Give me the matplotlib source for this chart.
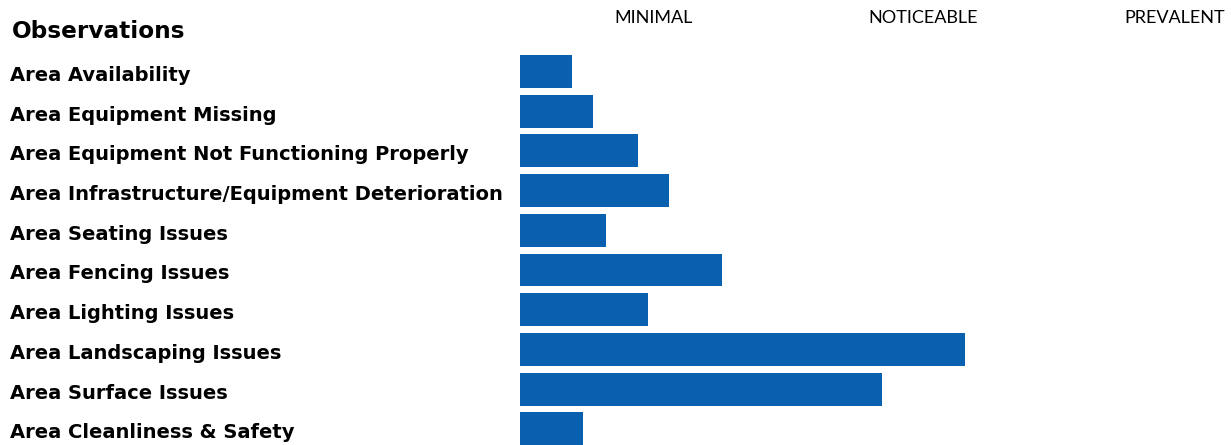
import matplotlib.pyplot as plt
from matplotlib.transforms import blended_transform_factory

categories = [
    "Area Availability",
    "Area Equipment Missing",
    "Area Equipment Not Functioning Properly",
    "Area Infrastructure/Equipment Deterioration",
    "Area Seating Issues",
    "Area Fencing Issues",
    "Area Lighting Issues",
    "Area Landscaping Issues",
    "Area Surface Issues",
    "Area Cleanliness & Safety",
]
values = [0.20, 0.28, 0.45, 0.57, 0.33, 0.77, 0.49, 1.70, 1.38, 0.24]
levels = ["MINIMAL", "NOTICEABLE", "PREVALENT"]
level_pos = [0.51, 1.54, 2.50]

fig = plt.figure(figsize=(12.31, 4.45), dpi=100)
ax = fig.add_axes([520 / 1231, 0, 711 / 1231, 1])

pitch = 39.7  # px per row
ax.barh(range(len(values)), values, height=0.83, color="#0860ae")
ax.set_xlim(0, 711 / 262)
ax.set_ylim((445 - 71.5) / pitch, -71.5 / pitch)
ax.axis("off")

# row labels, left aligned at the figure edge
tr = blended_transform_factory(fig.transFigure, ax.transData)
for i, c in enumerate(categories):
    ax.text(10 / 1231, i + 0.1, c, transform=tr, ha="left", va="center",
            fontsize=14, fontweight="bold", family="DejaVu Sans", clip_on=False)

fig.text(12 / 1231, 1 - 32 / 445, "Observations", ha="left", va="center",
         fontsize=16.7, fontweight="heavy", family="DejaVu Sans")

for p, lab in zip(level_pos, levels):
    ax.text(p, (18.5 - 71.5) / pitch, lab, ha="center", va="center",
            fontsize=13, family="Lato", clip_on=False)

fig.savefig("out.png", dpi=100)
